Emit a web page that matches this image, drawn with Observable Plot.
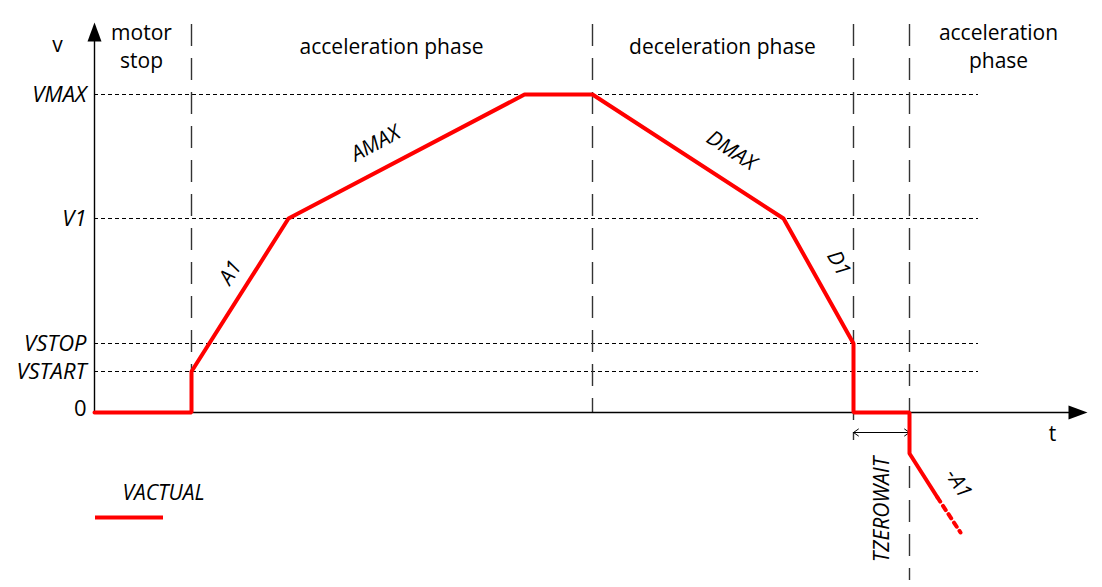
<!DOCTYPE html>
<html>
<head>
<meta charset="utf-8">
<script src="https://cdn.jsdelivr.net/npm/d3@7"></script>
<script src="https://cdn.jsdelivr.net/npm/@observablehq/plot@0.6"></script>
<style>
  html, body { margin: 0; padding: 0; background: #fff; }
  #chart svg { display: block; }
</style>
</head>
<body>
<div id="chart"></div>
<script>
// ---- data (time t, velocity v in diagram units) ----
const profileT = [0, 97, 97, 194, 430, 498, 689, 759, 759, 815, 815, 843];
const profileV = [0, 0, 41, 194, 318, 318, 194, 69, 0, 0, -41, -85];
const continuationT = [843, 866];
const continuationV = [-85, -120];

const levelNames = ["VMAX", "V1", "VSTOP", "VSTART"];
const levelValues = [318, 194, 69, 41];
const zeroLabel = "0";

const phaseBoundaryT = [97, 498, 759, 815];
const phaseBoundaryTop = [388, 388, 388, 388];
const phaseBoundaryBottom = [0, 0, -28, -168];

const phaseNames = ["motor\nstop", "acceleration phase", "deceleration phase", "acceleration\nphase"];
const phaseCenterT = [47, 297, 628, 904];

const slopeNames = ["A1", "AMAX", "DMAX", "D1", "-A1"];
const slopeT = [136, 281, 637, 744, 864];
const slopeV = [140, 269, 262, 149, -71];
const slopeAngle = [-58, -28, 33, 61, 58];

const waitStartT = 759, waitEndT = 815, waitV = -20;
const gridEndT = 884;
const axisEndT = 993, axisTopV = 390;

// ---- build tables ----
const profile = profileT.map((t, i) => ({t, v: profileV[i]}));
const continuation = continuationT.map((t, i) => ({t, v: continuationV[i]}));
const levels = levelNames.map((name, i) => ({name, v: levelValues[i]}));
const boundaries = phaseBoundaryT.map((t, i) => ({t, top: phaseBoundaryTop[i], bottom: phaseBoundaryBottom[i]}));
const phases = phaseNames.map((name, i) => ({name, t: phaseCenterT[i]}));
const slopes = slopeNames.map((name, i) => ({name, t: slopeT[i], v: slopeV[i], a: slopeAngle[i]}));
const waitMid = (waitStartT + waitEndT) / 2;
const waitArrows = [
  {x1: waitMid, x2: waitStartT},
  {x1: waitMid, x2: waitEndT}
];

const arrowHead = {
  draw(ctx) {
    ctx.moveTo(0, 0);
    ctx.lineTo(-7, 19);
    ctx.lineTo(7, 19);
    ctx.closePath();
  }
};

const FONT = "'Open Sans', sans-serif";

const chart = Plot.plot({
  width: 1102,
  height: 587,
  marginLeft: 0, marginRight: 0, marginTop: 0, marginBottom: 0,
  x: {domain: [-94, 1008], range: [0, 1102], axis: null},
  y: {domain: [-175, 412], range: [587, 0], axis: null},
  style: {fontFamily: FONT, background: "white"},
  marks: [
    // dotted level lines
    Plot.ruleY(levels, {y: "v", x1: 0, x2: gridEndT, stroke: "#000", strokeWidth: 1, strokeDasharray: "4,3"}),
    // phase boundaries
    Plot.ruleX(boundaries, {x: "t", y1: "top", y2: "bottom", stroke: "#333", strokeWidth: 1.4, strokeDasharray: "22,12"}),
    // axes
    Plot.ruleY([0], {x1: 0, x2: axisEndT - 16, stroke: "#000", strokeWidth: 1.4}),
    Plot.ruleX([0], {y1: 0, y2: axisTopV - 16, stroke: "#000", strokeWidth: 1.4}),
    Plot.dot([{t: 0, v: axisTopV}], {x: "t", y: "v", symbol: arrowHead, fill: "#000", stroke: null}),
    Plot.dot([{t: axisEndT, v: 0}], {x: "t", y: "v", symbol: arrowHead, fill: "#000", stroke: null, rotate: 90}),
    Plot.text(["v"], {x: -37, y: 367, text: d => d, fontSize: 21, fill: "#000"}),
    Plot.text(["t"], {x: 958, y: -22, text: d => d, fontSize: 21, fill: "#000"}),
    // level labels
    Plot.text(levels, {x: -8, y: "v", text: "name", textAnchor: "end", fontSize: 22, fontStyle: "italic", fill: "#000"}),
    Plot.text([zeroLabel], {x: -8, y: 4, text: d => d, textAnchor: "end", fontSize: 22, fill: "#000"}),
    // phase labels
    Plot.text(phases, {x: "t", y: 367, text: "name", fontSize: 21, lineHeight: 1.33, fill: "#000"}),
    // TZEROWAIT double arrow
    Plot.arrow(waitArrows, {x1: "x1", x2: "x2", y1: waitV, y2: waitV, stroke: "#000", strokeWidth: 1, headLength: 9, headAngle: 70}),
    Plot.text(["TZEROWAIT"], {x: 788, y: -97, text: d => d, rotate: -90, fontSize: 21, fontStyle: "italic", fill: "#000"}),
    // velocity profile
    Plot.line(profile, {x: "t", y: "v", stroke: "#ff0000", strokeWidth: 4, strokeLinejoin: "miter", curve: "linear"}),
    Plot.line(continuation, {x: "t", y: "v", stroke: "#ff0000", strokeWidth: 4, strokeDasharray: "5,5"}),
    // slope labels
    Plot.text(slopes, {x: "t", y: "v", text: "name", rotate: "a", fontSize: 21, fontStyle: "italic", fill: "#000"}),
    // legend
    Plot.ruleY([-105], {x1: 1, x2: 69, stroke: "#ff0000", strokeWidth: 4}),
    Plot.text(["VACTUAL"], {x: 69, y: -81, text: d => d, fontSize: 21, fontStyle: "italic", fill: "#000"})
  ]
});

document.getElementById("chart").appendChild(chart);
</script>
</body>
</html>
